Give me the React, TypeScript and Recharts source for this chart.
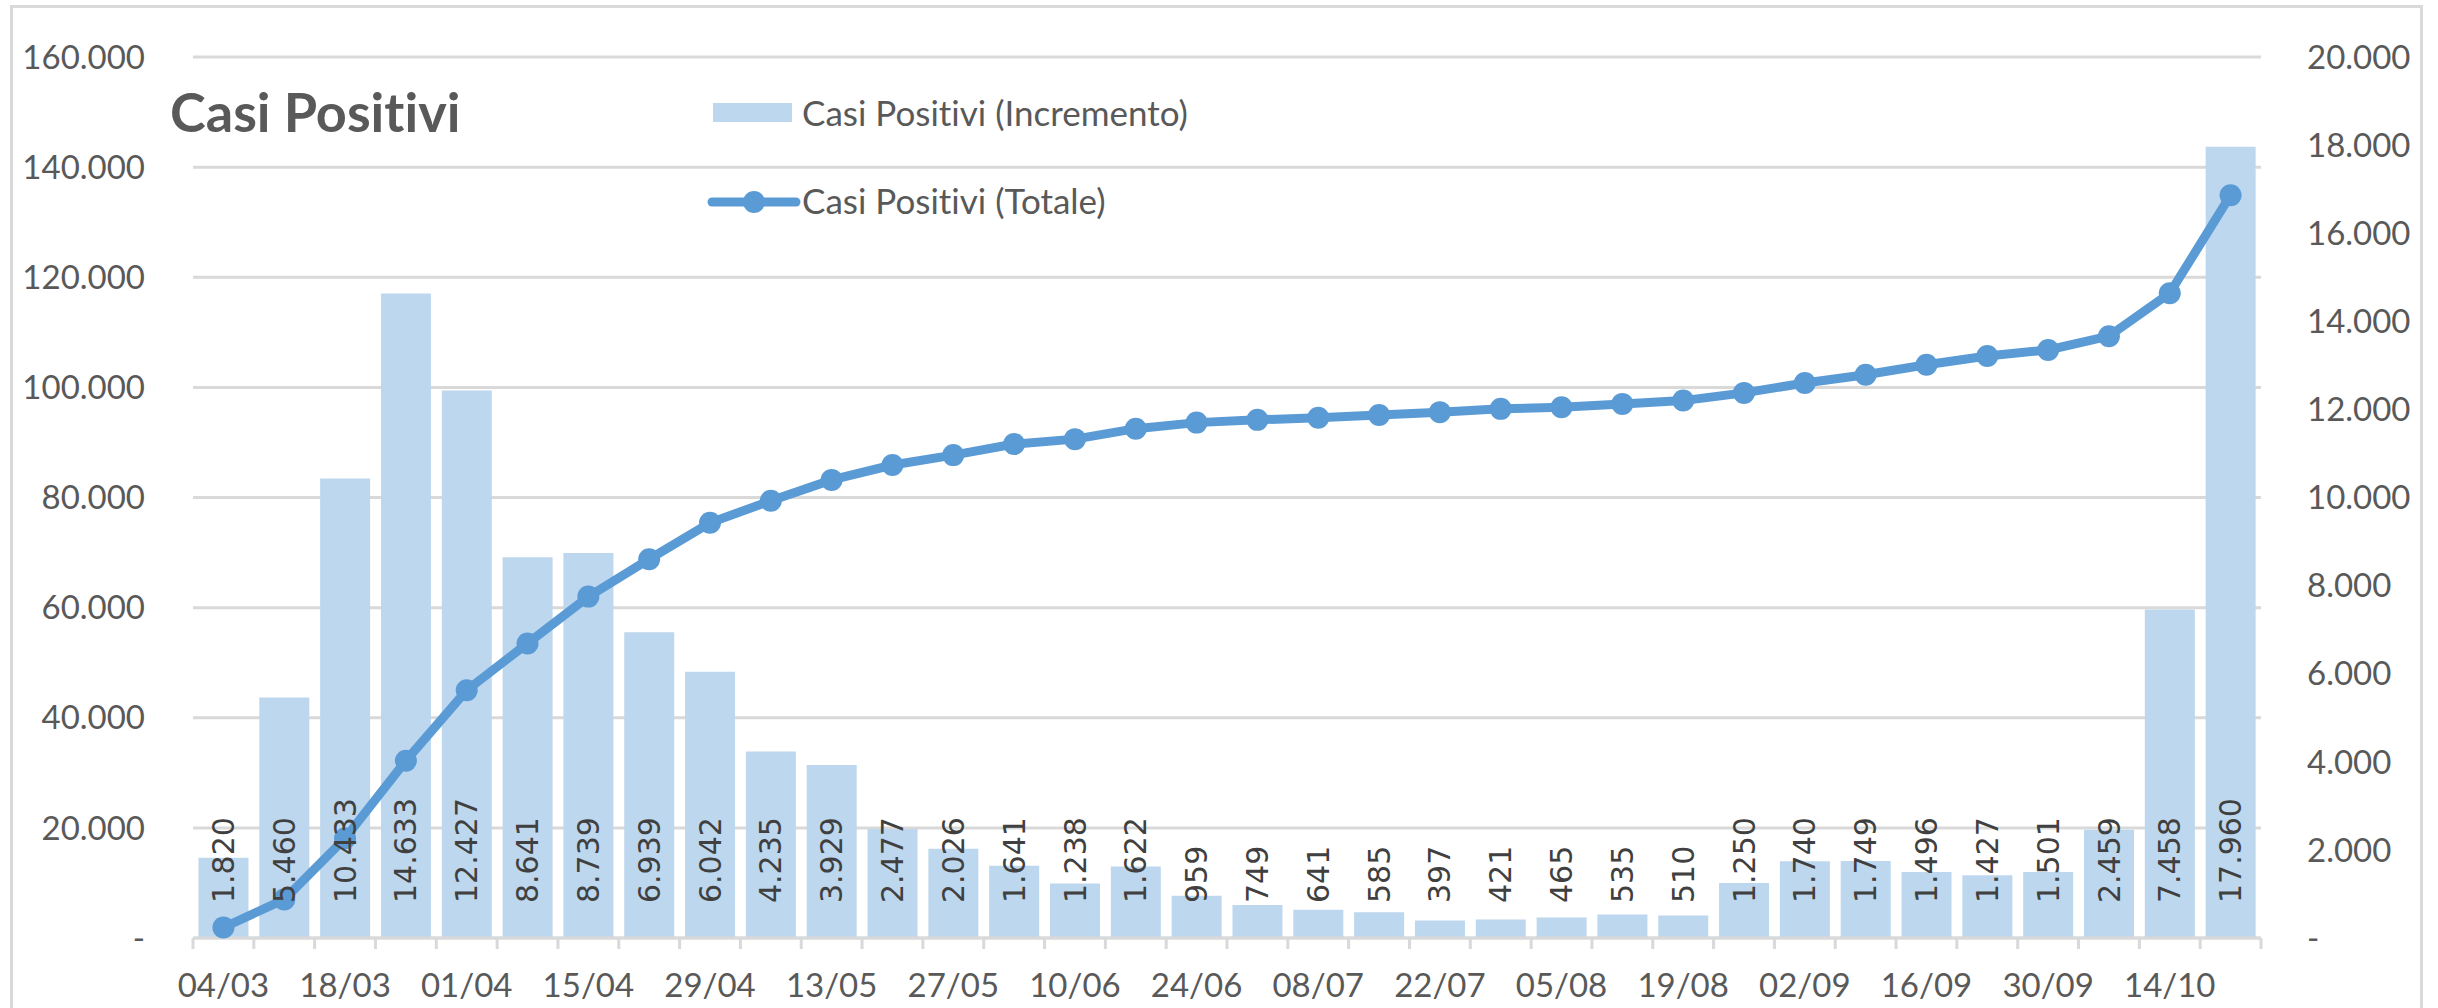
import React from "react";
import {
  ComposedChart, Bar, Line, XAxis, YAxis, CartesianGrid, LabelList, Legend,
} from "recharts";

const dates = [
  "04/03", "11/03", "18/03", "25/03", "01/04", "08/04", "15/04", "22/04", "29/04",
  "06/05", "13/05", "20/05", "27/05", "03/06", "10/06", "17/06", "24/06", "01/07",
  "08/07", "15/07", "22/07", "29/07", "05/08", "12/08", "19/08", "26/08", "02/09",
  "09/09", "16/09", "23/09", "30/09", "07/10", "14/10", "21/10",
];
const incremento = [
  1820, 5460, 10433, 14633, 12427, 8641, 8739, 6939, 6042, 4235, 3929, 2477, 2026,
  1641, 1238, 1622, 959, 749, 641, 585, 397, 421, 465, 535, 510, 1250, 1740, 1749,
  1496, 1427, 1501, 2459, 7458, 17960,
];
const totale = [
  1900, 7000, 18100, 32200, 45000, 53500, 62000, 68800, 75400, 79400, 83200, 85900,
  87700, 89700, 90600, 92500, 93600, 94100, 94500, 95000, 95500, 96100, 96400, 97000,
  97600, 99000, 100800, 102300, 104100, 105700, 106800, 109300, 117100, 134900,
];
const leftTicks = [0, 20000, 40000, 60000, 80000, 100000, 120000, 140000, 160000];
const rightTicks = [0, 2000, 4000, 6000, 8000, 10000, 12000, 14000, 16000, 18000, 20000];

const SERIES_BAR = "Casi Positivi (Incremento)";
const SERIES_LINE = "Casi Positivi (Totale)";

const data = dates.map((d, i) => ({ date: d, inc: incremento[i], tot: totale[i] }));

const W = 2438;
const H = 1008;
const LEFT_W = 193;
const RIGHT_W = 177;
const BAND = (W - LEFT_W - RIGHT_W) / dates.length;

const GRID = "#d9d9d9";
const TEXT = "#595959";
const BAR = "#bdd7ee";
const LINE = "#5b9bd5";
const FONT = "Lato, 'Open Sans', sans-serif";
const NOLIG = { fontVariantLigatures: "none" } as const;

const fmt = (v: number) =>
  v === 0 ? "-" : Math.round(v).toString().replace(/\B(?=(\d{3})+(?!\d))/g, ".");

const DateTick = ({ x, y, payload, index }: any) => {
  const half = BAND / 2;
  return (
    <g>
      <line x1={x - half} x2={x - half} y1={y} y2={y + 11} stroke={GRID} strokeWidth={3} />
      {index === dates.length - 1 && (
        <line x1={x + half} x2={x + half} y1={y} y2={y + 11} stroke={GRID} strokeWidth={3} />
      )}
      {index % 2 === 0 && (
        <text x={x} y={y + 59} textAnchor="middle" fill={TEXT} fontSize={33} fontFamily={FONT}>
          {payload.value}
        </text>
      )}
    </g>
  );
};

const BarValue = (props: any) => {
  const { x, y, width, height, value } = props;
  const cx = x + width / 2;
  const by = y + height - 35;
  return (
    <text
      x={cx} y={by} transform={`rotate(-90 ${cx} ${by})`}
      textAnchor="start" dominantBaseline="central"
      fontFamily="'DejaVu Sans', sans-serif" fontSize={30} fill="#404040"
    >
      {fmt(value)}
    </text>
  );
};

const LegendBox = () => (
  <svg width={W} height={240} style={{ position: "absolute", left: 0, top: 0, pointerEvents: "none" }}>
    {/* title */}
    <text x={170} y={132} fontFamily={FONT} fontWeight={700} fontSize={54} fill={TEXT} style={NOLIG}>
      Casi Positivi
    </text>
    <rect x={713} y={103} width={79} height={19} fill={BAR} />
    <text x={802} y={112} dominantBaseline="central" fontFamily={FONT} fontSize={35} fill={TEXT} style={NOLIG}>
      {SERIES_BAR}
    </text>
    <line x1={712} x2={796} y1={202} y2={202} stroke={LINE} strokeWidth={9} strokeLinecap="round" />
    <circle cx={754} cy={202} r={11} fill={LINE} />
    <text x={802} y={200} dominantBaseline="central" fontFamily={FONT} fontSize={35} fill={TEXT} style={NOLIG}>
      {SERIES_LINE}
    </text>
  </svg>
);

export default function App() {
  return (
    <div style={{ position: "absolute", left: 0, top: 0, width: W, height: H, background: "#fff", overflow: "hidden" }}>
      <ComposedChart
        width={W} height={H} data={data}
        margin={{ top: 57, right: 0, left: 0, bottom: 0 }}
        barCategoryGap="9%"
      >
        <CartesianGrid yAxisId="left" vertical={false} stroke={GRID} strokeWidth={3} />
        <XAxis
          dataKey="date" interval={0} height={70} tickSize={0} tickMargin={0}
          axisLine={{ stroke: GRID, strokeWidth: 3 }} tickLine={false}
          tick={<DateTick />}
        />
        <YAxis
          yAxisId="left" width={LEFT_W} domain={[0, 160000]} ticks={leftTicks}
          axisLine={false} tickLine={false} tickMargin={42} tickFormatter={fmt}
          tick={{ fill: TEXT, fontSize: 33, fontFamily: FONT }}
        />
        <YAxis
          yAxisId="right" orientation="right" width={RIGHT_W} domain={[0, 20000]}
          ticks={rightTicks} axisLine={false} tickLine={false} tickMargin={40}
          tickFormatter={fmt} tick={{ fill: TEXT, fontSize: 33, fontFamily: FONT, textAnchor: "start" }}
        />
        <Legend
          layout="horizontal" verticalAlign="middle" align="center"
          wrapperStyle={{ position: "absolute", left: 0, top: 0, width: W, height: 0 }}
          content={<LegendBox />}
        />
        <Bar yAxisId="right" dataKey="inc" name={SERIES_BAR} fill={BAR} isAnimationActive={false}>
          <LabelList dataKey="inc" content={<BarValue />} />
        </Bar>
        <Line
          yAxisId="left" type="linear" dataKey="tot" name={SERIES_LINE}
          stroke={LINE} strokeWidth={9} isAnimationActive={false}
          dot={{ r: 11, fill: LINE, stroke: LINE, strokeWidth: 0 }} activeDot={false}
        />
      </ComposedChart>
      <div
        style={{
          position: "absolute", left: 10, top: 5, width: 2413, height: 1020,
          border: `3px solid ${GRID}`, boxSizing: "border-box", pointerEvents: "none",
        }}
      />
    </div>
  );
}
